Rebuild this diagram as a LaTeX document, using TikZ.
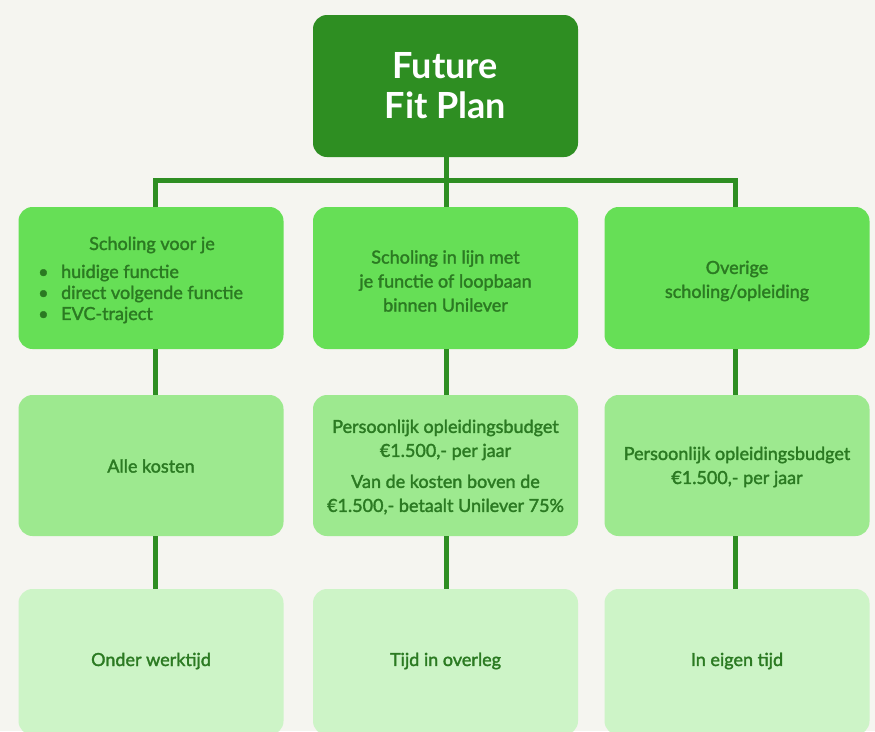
\documentclass[tikz,border=0pt]{standalone}
\usepackage{fontspec}
\setmainfont{Lato}
\newfontfamily\medfont{Lato}[FakeBold=1.8]
\definecolor{bg}{HTML}{F5F5F0}
\definecolor{dark}{HTML}{2E8E22}
\definecolor{lvlA}{HTML}{66DF56}
\definecolor{lvlB}{HTML}{9DE98F}
\definecolor{lvlC}{HTML}{CDF4C7}
\definecolor{txt}{HTML}{2B7A22}
\begin{document}
\begin{tikzpicture}[x=1pt,y=-1pt,
  box/.style={rounded corners=14pt, minimum width=265pt, minimum height=142pt, inner sep=0pt, draw=none},
  boxtext/.style={text=txt, font=\medfont\fontsize{18}{24}\selectfont, align=center, inner sep=0pt},
  conn/.style={draw=dark, line width=5pt}]
\useasboundingbox (0,0) rectangle (875,731);
\fill[bg] (0,0) rectangle (875,731);
\clip (0,0) rectangle (875,731);
% top
\node[box, fill=dark] (top) at (445.5,86) {};
\node[text=white, font=\bfseries\fontsize{36}{40}\selectfont, align=center] (title) at (445.5,86) {Future\\Fit Plan};
% row 1
\node[box, fill=lvlA] (r1a) at (151,278) {};
\node[box, fill=lvlA] (r1b) at (445.5,278) {};
\node[box, fill=lvlA] (r1c) at (737,278) {};
% row 2
\node[box, fill=lvlB, minimum height=141pt] (r2a) at (151,465.5) {};
\node[box, fill=lvlB, minimum height=141pt] (r2b) at (445.5,465.5) {};
\node[box, fill=lvlB, minimum height=141pt] (r2c) at (737,465.5) {};
% row 3
\node[box, fill=lvlC, minimum height=146pt] (r3a) at (151,662) {};
\node[box, fill=lvlC, minimum height=146pt] (r3b) at (445.5,662) {};
\node[box, fill=lvlC, minimum height=146pt] (r3c) at (737,662) {};
% connectors
\coordinate (bar) at (446.5,180);
\draw[conn] ([xshift=1pt]top.south) -- ([xshift=1pt]r1b.north);
\draw[conn] ([xshift=4pt]r1a.north) -- ([xshift=4pt]r1a.north |- bar) -| ([xshift=-1.5pt]r1c.north);
\draw[conn] ([xshift=4pt]r1a.south) -- ([xshift=4pt]r2a.north);
\draw[conn] ([xshift=1pt]r1b.south) -- ([xshift=1pt]r2b.north);
\draw[conn] ([xshift=-1.5pt]r1c.south) -- ([xshift=-1.5pt]r2c.north);
\draw[conn] ([xshift=4pt]r2a.south) -- ([xshift=4pt]r3a.north);
\draw[conn] ([xshift=1pt]r2b.south) -- ([xshift=1pt]r3b.north);
\draw[conn] ([xshift=-1.5pt]r2c.south) -- ([xshift=-1.5pt]r3c.north);
% texts row 1
\node[boxtext] (t1a) at (152,245) {Scholing voor je};
\node[boxtext, anchor=west, align=left, font=\medfont\fontsize{18}{21}\selectfont] (t1abul) at (38,294)
  {\makebox[23pt][l]{\textbullet}huidige functie\\
   \makebox[23pt][l]{\textbullet}direct volgende functie\\
   \makebox[23pt][l]{\textbullet}EVC-traject};
\node[boxtext] (t1b) at (445.5,281) {Scholing in lijn met\\je functie of loopbaan\\binnen Unilever};
\node[boxtext] (t1c) at (737,281) {Overige\\scholing/opleiding};
% texts row 2
\node[boxtext] (t2a) at (151,466) {Alle kosten};
\node[boxtext, align=center] (t2b) at (445.5,467)
  {Persoonlijk opleidingsbudget\\\texteuro1.500,- per jaar\\[7pt]Van de kosten boven de\\\texteuro1.500,- betaalt Unilever 75\%};
\node[boxtext] (t2c) at (737,467) {Persoonlijk opleidingsbudget\\\texteuro1.500,- per jaar};
% texts row 3
\node[boxtext] (t3a) at (151,661) {Onder werktijd};
\node[boxtext] (t3b) at (445.5,661) {Tijd in overleg};
\node[boxtext] (t3c) at (737,661) {In eigen tijd};
\end{tikzpicture}
\end{document}
